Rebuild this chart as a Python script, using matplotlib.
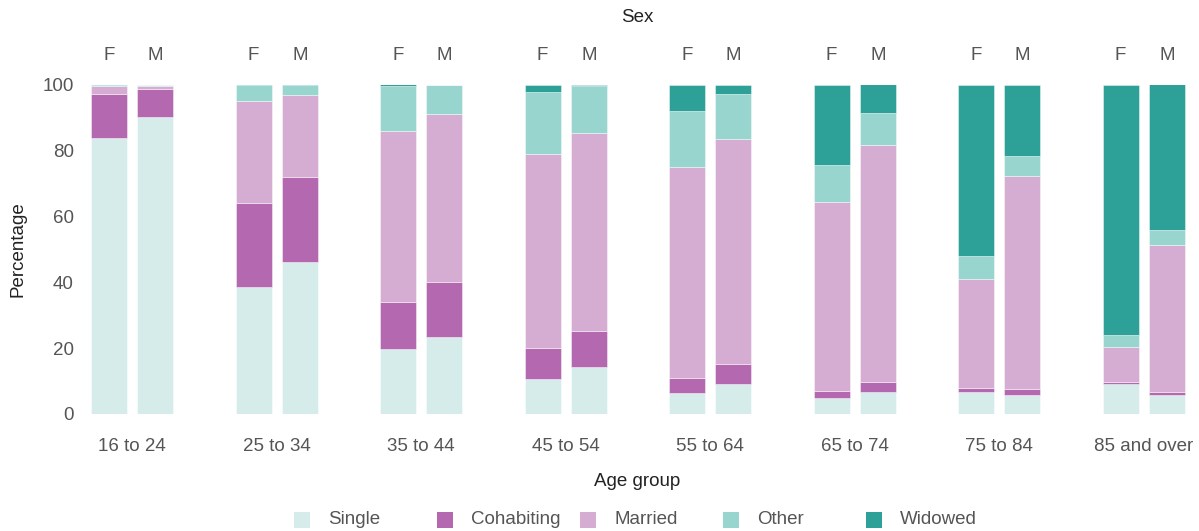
import matplotlib
matplotlib.use("Agg")
import matplotlib.pyplot as plt
from matplotlib.patches import Rectangle
import numpy as np

plt.rcParams['font.family'] = ['Liberation Sans', 'DejaVu Sans']

age_groups = ["16 to 24", "25 to 34", "35 to 44", "45 to 54",
              "55 to 64", "65 to 74", "75 to 84", "85 and over"]
sexes = ["F", "M"]
statuses = ["Single", "Cohabiting", "Married", "Other", "Widowed"]
colors = ["#d6ecea", "#b468b0", "#d5add2", "#98d5cf", "#2da197"]

female_single = [83.8, 38.6, 19.7, 10.7, 6.3, 5.0, 6.8, 9.0]
female_cohabiting = [13.2, 25.3, 14.3, 9.2, 4.6, 2.1, 1.0, 0.7]
female_married = [2.5, 31.0, 51.8, 58.9, 64.2, 57.1, 33.2, 10.5]
female_other = [0.5, 5.1, 13.7, 18.9, 16.9, 11.5, 6.9, 3.9]
female_widowed = [0.0, 0.0, 0.5, 2.3, 8.0, 24.3, 52.1, 75.9]

male_single = [90.0, 46.0, 23.5, 14.3, 9.1, 6.7, 5.9, 5.7]
male_cohabiting = [8.6, 25.9, 16.6, 10.9, 6.0, 3.0, 1.7, 1.1]
male_married = [1.0, 24.8, 50.8, 60.1, 68.5, 71.8, 64.7, 44.4]
male_other = [0.4, 3.3, 8.8, 14.1, 13.5, 9.7, 6.1, 4.5]
male_widowed = [0.0, 0.0, 0.3, 0.6, 2.9, 8.8, 21.6, 44.3]

female = [female_single, female_cohabiting, female_married, female_other, female_widowed]
male = [male_single, male_cohabiting, male_married, male_other, male_widowed]

fig = plt.figure(figsize=(11.99, 5.31), dpi=100)
W, H = 1199, 531
ax = fig.add_axes([85 / W, 1 - 414 / H, (1190 - 85) / W, (414 - 84.5) / H])

x = np.arange(len(age_groups))
offset = 0.16
width = 0.25
text_col = "#555555"

for sex_vals, off in [(female, -offset), (male, offset)]:
    bottom = np.zeros(len(age_groups))
    for vals, col in zip(sex_vals, colors):
        v = np.array(vals)
        ax.bar(x + off, v, width=width, bottom=bottom, color=col,
               edgecolor=(1, 1, 1, 0.5), linewidth=0.6)
        bottom += v

ax.set_xlim((85 - 132.3) / 144.5, (1190 - 132.3) / 144.5)
ax.set_ylim(0, 100)
for s in ax.spines.values():
    s.set_visible(False)
ax.set_yticks([0, 20, 40, 60, 80, 100])
ax.set_xticks(x)
ax.set_xticklabels(age_groups)
ax.tick_params(axis='x', length=0, pad=17, labelsize=13.5, labelcolor=text_col)
ax.tick_params(axis='y', length=0, pad=8, labelsize=13.5, labelcolor=text_col)

top = ax.secondary_xaxis('top')
top_pos = np.concatenate([x - offset, x + offset])
top_lab = [sexes[0]] * len(x) + [sexes[1]] * len(x)
top.set_xticks(top_pos)
top.set_xticklabels(top_lab)
top.tick_params(length=0, pad=15, labelsize=13.5, labelcolor=text_col)
for s in top.spines.values():
    s.set_visible(False)

fig.text(18 / W, 1 - 249 / H, "Percentage", rotation=90, ha='center', va='center',
         fontsize=13.5, color="#222222")
fig.text(637 / W, 1 - 482 / H, "Age group", ha='center', va='center',
         fontsize=13.5, color="#222222")
fig.text(637 / W, 1 - 18 / H, "Sex", ha='center', va='center',
         fontsize=13.5, color="#222222")

# legend
leg_x0 = 294
leg_step = 143
leg_y = 520
for i, (lab, col) in enumerate(zip(statuses, colors)):
    px = leg_x0 + i * leg_step
    fig.patches.append(Rectangle((px / W, 1 - (leg_y + 8) / H), 16 / W, 16 / H,
                                 transform=fig.transFigure, facecolor=col,
                                 edgecolor='none'))
    fig.text((px + 34) / W, 1 - leg_y / H, lab, ha='left', va='center',
             fontsize=13.5, color=text_col)

fig.savefig("out.png", dpi=100)
